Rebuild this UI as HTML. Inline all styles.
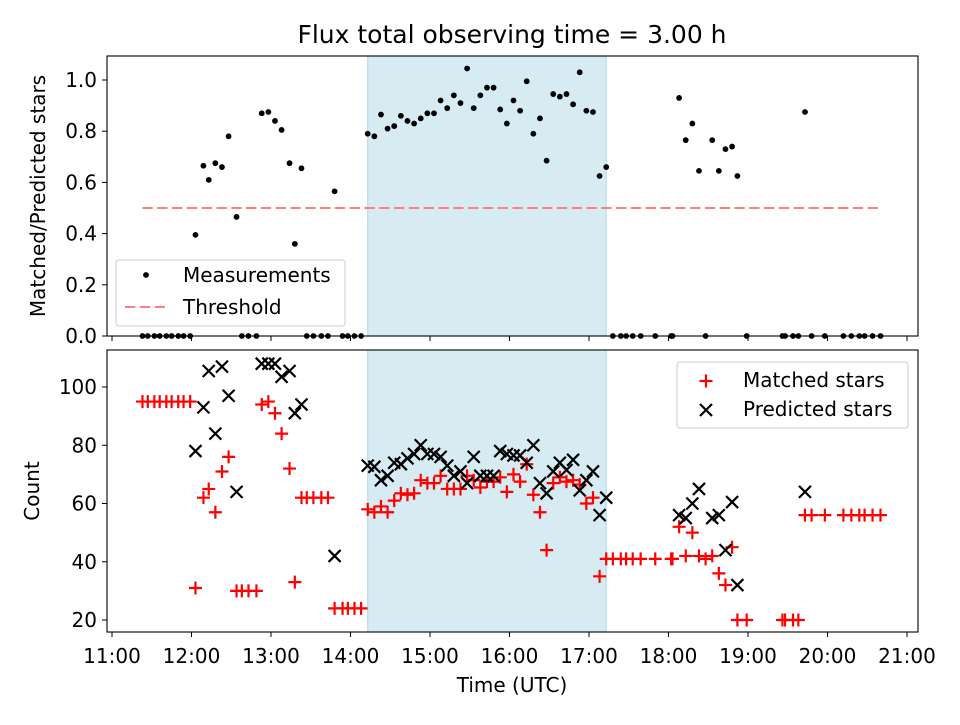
<!DOCTYPE html>
<html><head><meta charset="utf-8"><style>
body{margin:0;background:#fff;}
svg text{font-family:"DejaVu Sans","Liberation Sans",sans-serif;fill:#000;}
</style></head><body>
<svg id="chart" width="960" height="720" xmlns="http://www.w3.org/2000/svg">
<text x="512" y="43" font-size="25" text-anchor="middle">Flux total observing time = 3.00 h</text>
<text transform="translate(45,196) rotate(-90)" font-size="20" text-anchor="middle">Matched/Predicted stars</text>
<text transform="translate(39,491) rotate(-90)" font-size="20" text-anchor="middle">Count</text>
<text x="512" y="692" font-size="20" text-anchor="middle">Time (UTC)</text>
<g id="topPanel"></g><g id="botPanel"></g>
</svg>
<script>
const times=[23,27,32,36,41,45,50,54,59,63,69,73,78,83,88,94,98,103,109,113,118,123,128,134,138,143,147,152,158,163,168,174,178,183,188,193,198,203,208,213,218,223,228,233,238,243,248,253,258,263,268,273,278,283,288,293,298,303,308,313,318,323,328,333,338,343,348,353,358,363,368,373,378,384,388,393,399,410,422,423,428,433,438,443,448,453,458,463,468,472,479,506,508,514,518,523,528,538,552,558,564,568,574,580];
const ratio=[0,0,0,0,0,0,0,0,0,.395,.665,.61,.675,.66,.78,.465,0,0,0,.87,.875,.84,.805,.675,.36,.655,0,0,0,0,.565,0,0,0,0,.79,.78,.865,.81,.82,.86,.84,.83,.85,.87,.87,.92,.89,.94,.91,1.045,.89,.94,.97,.97,.885,.83,.92,.88,.995,.79,.85,.685,.945,.935,.945,.905,1.03,.88,.875,.625,.66,0,0,0,0,0,0,0,0,.93,.765,.83,.645,0,.765,.645,.73,.74,.625,0,0,0,0,0,.875,0,0,0,0,0,0,0,0];
const matched=[95,95,95,95,95,95,95,95,95,31,62,65,57,71,76,30,30,30,30,94,95,91,84,72,33,62,62,62,62,62,24,24,24,24,24,58,57,59,57,61,63.5,63,63.5,68,67,67,69.5,65,65,65,69.5,68,65.5,67.5,67.5,69,64,70,67.5,73.5,63,57,44,67,69,67.5,68,66.5,60,62,35,41,41,41,41,41,41,41,41,41,52,42,50,42,41,42,36,32,45,20,20,20,20,20,20,56,56,56,56,56,56,56,56,56];
const predicted=[null,null,null,null,null,null,null,null,null,78,93,105.5,84,107,97,64,null,null,null,108,108,108,103.5,105.5,91,94,null,null,null,null,42,null,null,null,null,73,72.6,68,69.5,74,73.5,75.5,77,80,77,77,76,73,69.5,71,67,76,69.5,69.5,69.5,78,77,76.5,76.5,74,80,67,63.5,71,74,71.5,75,64.5,68,71,56,62,null,null,null,null,null,null,null,null,56,55,60,65,null,55,56,44,60.5,32,null,null,null,null,null,64,null,null,null,null,null,null,null,null];
const xTickLabels=["11:00","12:00","13:00","14:00","15:00","16:00","17:00","18:00","19:00","20:00","21:00"];
const topTicks=[0,0.2,0.4,0.6,0.8,1.0];
const botTicks=[20,40,60,80,100];
const threshold=0.5;
const windowStart=193, windowEnd=373;

const NS="http://www.w3.org/2000/svg";
const L=107,R=918,T1=56,B1=336,T2=350,B2=632;
function X(m){return 112+m*79.5/60;}
function Y1(v){return 336-v*256;}
function Y2(v){return 620-(v-20)*2.9125;}
function mk(p,tag,a){const e=document.createElementNS(NS,tag);for(const k in a)e.setAttribute(k,a[k]);p.appendChild(e);return e;}
const topG=document.getElementById('topPanel'),botG=document.getElementById('botPanel');

function panel(g,T,B,name){
  const s=mk(g,'rect',{x:X(windowStart),y:T,width:X(windowEnd)-X(windowStart),height:B-T,fill:'#add8e6','fill-opacity':0.5,stroke:'#add8e6'});
  
  
}
panel(topG,T1,B1,'top');panel(botG,T2,B2,'bottom');

const th=mk(topG,'line',{x1:X(times[0]),x2:X(times[times.length-1]),y1:Y1(threshold),y2:Y1(threshold),stroke:'#ff7f7f','stroke-width':2.1,'stroke-dasharray':'10.3,4.5'});



times.forEach((t,i)=>{
  const c=mk(topG,'circle',{cx:X(t),cy:Y1(ratio[i]),r:2.9,fill:'#000'});
  
  
});
const clipB=mk(botG,'clipPath',{id:'cb'});mk(clipB,'rect',{x:L,y:T2,width:R-L,height:B2-T2});
const gb=mk(botG,'g',{'clip-path':'url(#cb)'});
function plus(g,x,y,name){const p=mk(g,'path',{d:`M${x-6.5} ${y}H${x+6.5}M${x} ${y-6.5}V${y+6.5}`,stroke:'#f00','stroke-width':2.2,fill:'none'});
  
  return p;}
function cross(g,x,y,name){const p=mk(g,'path',{d:`M${x-6} ${y-6}L${x+6} ${y+6}M${x-6} ${y+6}L${x+6} ${y-6}`,stroke:'#000','stroke-width':2.2,fill:'none'});
  
  return p;}
times.forEach((t,i)=>{plus(gb,X(t),Y2(matched[i]),'matched-star-point');});
times.forEach((t,i)=>{if(predicted[i]!=null)cross(gb,X(t),Y2(predicted[i]),'predicted-star-point');});

function frame(g,T,B,name){
  const f=mk(g,'rect',{x:L,y:T,width:R-L,height:B-T,fill:'none',stroke:'#000','stroke-width':1.1});
  
  
  xTickLabels.forEach((lab,i)=>{mk(g,'line',{x1:X(i*60),x2:X(i*60),y1:B,y2:B+5,stroke:'#000'});});
}
frame(topG,T1,B1,'top');frame(botG,T2,B2,'bottom');
xTickLabels.forEach((lab,i)=>{const t=mk(botG,'text',{x:X(i*60),y:663,'font-size':20,'text-anchor':'middle'});t.textContent=lab;
  
  });
topTicks.forEach(v=>{mk(topG,'line',{x1:L-5,x2:L,y1:Y1(v),y2:Y1(v),stroke:'#000'});
  const t=mk(topG,'text',{x:L-10,y:Y1(v)+7,'font-size':20,'text-anchor':'end'});t.textContent=v.toFixed(1);
  
  });
botTicks.forEach(v=>{mk(botG,'line',{x1:L-5,x2:L,y1:Y2(v),y2:Y2(v),stroke:'#000'});
  const t=mk(botG,'text',{x:L-10,y:Y2(v)+7,'font-size':20,'text-anchor':'end'});t.textContent=v;
  
  });

const lg1=mk(topG,'g',{});


mk(lg1,'rect',{x:116,y:260,width:229,height:66,rx:3,fill:'#fff','fill-opacity':0.85,stroke:'#ccc'});
mk(lg1,'circle',{cx:146,cy:275,r:2.9,fill:'#000'});
let tx=mk(lg1,'text',{x:183,y:282,'font-size':20});tx.textContent='Measurements';
mk(lg1,'line',{x1:125,x2:167,y1:307,y2:307,stroke:'#ff7f7f','stroke-width':2.1,'stroke-dasharray':'10.3,4.5'});
tx=mk(lg1,'text',{x:183,y:314,'font-size':20});tx.textContent='Threshold';
const lg2=mk(botG,'g',{});


mk(lg2,'rect',{x:677,y:362,width:231,height:66,rx:3,fill:'#fff','fill-opacity':0.85,stroke:'#ccc'});
plus(lg2,706,381,'legend-matched-marker');
tx=mk(lg2,'text',{x:743,y:387,'font-size':20});tx.textContent='Matched stars';
cross(lg2,706,410,'legend-predicted-marker');
tx=mk(lg2,'text',{x:743,y:416,'font-size':20});tx.textContent='Predicted stars';
</script>
</body></html>
